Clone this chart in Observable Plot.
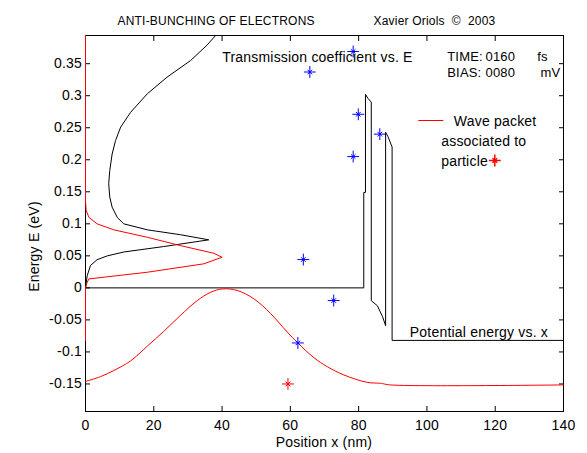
<!DOCTYPE html>
<html><head><meta charset="utf-8">
<script src="https://cdn.jsdelivr.net/npm/d3@7"></script>
<script src="https://cdn.jsdelivr.net/npm/@observablehq/plot@0.6"></script>
<style>
html,body{margin:0;padding:0;background:#fff;}
#chart{width:587px;height:453px;}
svg text{white-space:pre;}
</style></head><body><div id="chart"></div>
<script>
// ---- tick values and labels ----
const xTicks = [0, 20, 40, 60, 80, 100, 120, 140];
const xTickLabels = ["0", "20", "40", "60", "80", "100", "120", "140"];
const yTicks = [-0.15, -0.1, -0.05, 0, 0.05, 0.1, 0.15, 0.2, 0.25, 0.3, 0.35];
const yTickLabels = ["-0.15", "-0.1", "-0.05", "0", "0.05", "0.1", "0.15", "0.2", "0.25", "0.3", "0.35"];

// ---- potential energy vs x (double barrier with bias) ----
const potX = [0, 81.5, 81.5, 82.0, 82.0, 82.7, 83.7, 83.7, 85.5, 87.0, 87.9, 87.9, 88.6, 89.8, 89.8, 140];
const potE = [0, 0, 0.149, 0.149, 0.302, 0.296, 0.290, -0.020, -0.028, -0.045, -0.059, 0.243, 0.236, 0.220, -0.082, -0.082];

// ---- transmission coefficient vs E (plotted horizontally) ----
const transT = [0, 0.5, 1.46, 3.4, 6.4, 11.2, 22.9, 36.1, 27.8, 18.1, 11.2, 9.3, 7.8, 7.1, 6.8, 7.1, 7.8, 8.8, 10.3, 13.2, 18.1, 23.9, 30.8, 35.6, 38.1];
const transE = [0, 0.019, 0.035, 0.044, 0.050, 0.056, 0.0645, 0.075, 0.083, 0.0906, 0.100, 0.110, 0.126, 0.142, 0.1625, 0.183, 0.209, 0.230, 0.251, 0.274, 0.303, 0.329, 0.355, 0.379, 0.394];

// ---- wave packet in energy (red, along E axis) ----
const energyPacketX = [0, 0, 0.5, 1.0, 18.1, 34.6, 40.0, 37.6, 27.8, 18.1, 8.3, 3.4, 1.0, 0.2, 0, 0];
const energyPacketE = [-0.082, 0, 0.0088, 0.014, 0.0244, 0.0375, 0.0478, 0.054, 0.066, 0.079, 0.0906, 0.100, 0.110, 0.121, 0.135, 0.394];

// ---- wave packet in space (red) ----
const spacePacketX = [0, 4.4, 8.3, 13.2, 18.1, 22.9, 27.8, 32.7, 36.6, 40.2, 44.4, 49.3, 54.2, 59.1, 62.2, 66.9, 70.8, 75.7, 82.5, 86.4, 89.3, 140];
const spacePacketE = [-0.146, -0.1386, -0.129, -0.114, -0.091, -0.068, -0.043, -0.020, -0.007, -0.0016, -0.004, -0.017, -0.040, -0.069, -0.086, -0.109, -0.123, -0.136, -0.1475, -0.149, -0.1515, -0.1515];

// ---- electrons (blue stars) and the tracked particle (red star) ----
const electronX = [78.4, 65.7, 79.9, 86.2, 78.4, 63.8, 72.7, 62.2];
const electronE = [0.369, 0.337, 0.271, 0.240, 0.205, 0.0442, -0.0198, -0.086];
const particleX = [59.3];
const particleE = [-0.150];

const rows = (xs, ys) => xs.map((x, i) => ({x, y: ys[i]}));

const W = 587, H = 453, ML = 85, MR = 24, MT = 35, MB = 42;
const FONT = "'Liberation Sans', Arial, Helvetica, sans-serif";

function label(text, px, py, opts = {}) {
  return Plot.text([text], {text: d => d, frameAnchor: "top-left", dx: px - ML, dy: py - MT,
    lineAnchor: "bottom", textAnchor: "start", fill: "black", ...opts});
}
function star(data, color) {
  return [
    Plot.dot(data, {x: "x", y: "y", symbol: "plus", r: 3.9, stroke: color, strokeWidth: 1}),
    Plot.dot(data, {x: "x", y: "y", symbol: "times", r: 2.2, stroke: color, strokeWidth: 1})
  ];
}

const chart = Plot.plot({
  width: W, height: H,
  marginLeft: ML, marginRight: MR, marginTop: MT, marginBottom: MB,
  style: {fontFamily: FONT, fontSize: "14px", background: "white", color: "black", overflow: "visible"},
  x: {domain: [0, 140], axis: null},
  y: {domain: [-0.193, 0.394], axis: null},
  marks: [
    Plot.frame({stroke: "black", strokeWidth: 1}),
    Plot.axisX(xTicks, {anchor: "bottom", tickSize: -5, tickPadding: 13.4, tickFormat: d => xTickLabels[xTicks.indexOf(d)], label: null}),
    Plot.axisX(xTicks, {anchor: "top", tickSize: -5, tickFormat: () => "", label: null}),
    Plot.axisY(yTicks, {anchor: "left", tickSize: -5, tickPadding: 8.5, tickFormat: d => yTickLabels[yTicks.indexOf(d)], label: null}),
    Plot.axisY(yTicks, {anchor: "right", tickSize: -5, tickFormat: () => "", label: null}),
    Plot.line(rows(potX, potE), {x: "x", y: "y", stroke: "black", strokeWidth: 1}),
    Plot.line(rows(transT, transE), {x: "x", y: "y", stroke: "black", strokeWidth: 1}),
    Plot.line(rows(spacePacketX, spacePacketE), {x: "x", y: "y", stroke: "#ff0000", strokeWidth: 1, curve: "catmull-rom"}),
    Plot.line(rows(energyPacketX, energyPacketE), {x: "x", y: "y", stroke: "#ff0000", strokeWidth: 1}),
    ...star(rows(electronX, electronE), "#0000ff"),
    ...star(rows(particleX, particleE), "#ff0000"),
    // titles
    label("ANTI-BUNCHING OF ELECTRONS", 117, 24.5, {fontSize: 12}),
    label("Xavier Oriols  ©  2003", 373, 24.5, {fontSize: 12}),
    // annotations inside axes
    label("Transmission coefficient vs. E", 221.7, 61),
    label("TIME:", 446.7, 60, {fontSize: 13}), label("0160", 485, 60, {fontSize: 13}), label("fs", 536.7, 60, {fontSize: 13}),
    label("BIAS:", 446.7, 76, {fontSize: 13}), label("0080", 485, 76, {fontSize: 13}), label("mV", 540, 76, {fontSize: 13}),
    label("Wave packet", 453.3, 125),
    label("associated to", 440.7, 145),
    label("particle", 440.7, 165),
    label("Potential energy vs. x", 409.3, 336.7),
    // axis titles
    label("Position x (nm)", 323.5, 446.7, {textAnchor: "middle"}),
    label("Energy E (eV)", 38, 246, {textAnchor: "middle", rotate: -90}),
    // legend marker for the particle
    Plot.dot([0], {frameAnchor: "top-left", dx: 494.3 - ML, dy: 160 - MT, symbol: "plus", r: 3.9, stroke: "#ff0000"}),
    Plot.dot([0], {frameAnchor: "top-left", dx: 494.3 - ML, dy: 160 - MT, symbol: "times", r: 2.2, stroke: "#ff0000"})
  ]
});
document.getElementById("chart").appendChild(chart);
const svg = d3.select(chart);
svg.selectAll("text").style("letter-spacing", "0.2px");
// legend swatch line for the wave packet
svg.append("line")
  .attr("x1", 418.3).attr("x2", 443.3).attr("y1", 120.5).attr("y2", 120.5)
  .attr("stroke", "#ff0000").attr("stroke-width", 1);
</script></body></html>
